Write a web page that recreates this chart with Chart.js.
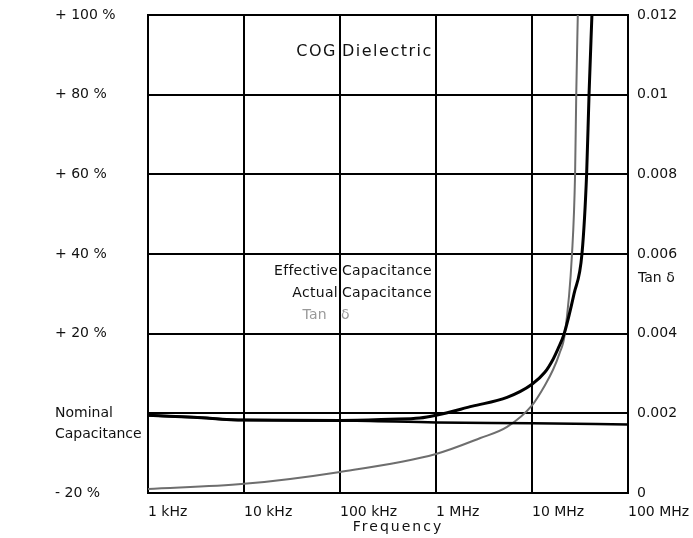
<!DOCTYPE html>
<html>
<head>
<meta charset="utf-8">
<script src="https://cdn.jsdelivr.net/npm/chart.js@4.4.1/dist/chart.umd.min.js"></script>
<style>
  html, body { margin: 0; padding: 0; background: #fff; }
  #wrap { width: 693px; height: 538px; }
</style>
</head>
<body>
<div id="wrap"><canvas id="cogChart" width="693" height="538"></canvas></div>
<script>
// ---- values ----
const freqTicks = [1e3, 1e4, 1e5, 1e6, 1e7, 1e8];
const freqLabels = ['1 kHz', '10 kHz', '100 kHz', '1 MHz', '10 MHz', '100 MHz'];
const capTickLabels = ['- 20 %', ['', 'Nominal', 'Capacitance'], '+ 20 %', '+ 40 %', '+ 60 %', '+ 80 %', '+ 100 %'];
const tanTickLabels = ['0', '0.002', '0.004', '0.006', '0.008', '0.01', '0.012'];

// effective capacitance, % change (left axis)
const effFreq = [1e3, 3e3, 1e4, 1e5, 3.3e5, 6.8e5, 1e6, 2.4e6, 5.5e6, 1e7, 1.36e7, 1.66e7, 1.86e7, 2.15e7, 2.74e7, 3.32e7, 3.71e7, 3.93e7, 4.21e7];
const effCap = [-0.5, -1.0, -1.7, -1.8, -1.5, -1.2, -0.5, 1.8, 4.0, 7.3, 10.3, 13.6, 16.1, 19.8, 30, 40.2, 60.3, 80.2, 100];

// actual capacitance, % change (left axis)
const actFreq = [1e3, 3e3, 1e4, 1e5, 1e6, 1e7, 1e8];
const actCap = [-0.5, -1.0, -1.7, -1.8, -2.3, -2.5, -2.8];

// dissipation factor (right axis)
const tanFreq = [1e3, 1e4, 1e5, 1e6, 2.9e6, 5.5e6, 1e7, 1.36e7, 1.66e7, 1.93e7, 2.2e7, 2.61e7, 2.81e7, 2.89e7, 3.0e7];
const tanD = [0.0001, 0.00023, 0.00053, 0.00098, 0.00138, 0.00166, 0.0022, 0.0027, 0.0031, 0.0035, 0.0040, 0.0060, 0.0080, 0.0100, 0.0120];

const FONT = 'DejaVu Sans';
const toPts = (xs, ys) => xs.map((v, i) => ({ x: v, y: ys[i] }));

// text written inside the plot and beside the axes
const cogText = {
  id: 'cogText',
  afterDraw(chart) {
    const { ctx, chartArea, scales: { x, y } } = chart;
    const split = x.getPixelForValue(1e5);
    ctx.save();
    ctx.textBaseline = 'middle';
    ctx.fillStyle = '#111';

    ctx.font = '16px "' + FONT + '"';
    ctx.letterSpacing = '1.5px';
    ctx.textAlign = 'right';
    ctx.fillText('COG', split - 3, y.getPixelForValue(90.7));
    ctx.textAlign = 'left';
    ctx.fillText('Dielectric', split + 2, y.getPixelForValue(90.7));

    ctx.font = '14px "' + FONT + '"';
    ctx.letterSpacing = '0.3px';
    ctx.textAlign = 'right';
    ctx.fillText('Effective', split - 2, y.getPixelForValue(35.7));
    ctx.fillText('Actual', split - 2, y.getPixelForValue(30.2));
    ctx.textAlign = 'left';
    ctx.fillText('Capacitance', split + 2, y.getPixelForValue(35.7));
    ctx.fillText('Capacitance', split + 2, y.getPixelForValue(30.2));

    ctx.fillStyle = '#999';
    ctx.textAlign = 'right';
    ctx.fillText('Tan', split - 13, y.getPixelForValue(24.7));
    ctx.textAlign = 'left';
    ctx.fillText('δ', split + 1, y.getPixelForValue(24.7));

    // right axis title
    ctx.fillStyle = '#111';
    ctx.letterSpacing = '0px';
    ctx.fillText('Tan δ', chartArea.right + 10, y.getPixelForValue(34));

    // x axis title
    ctx.textAlign = 'center';
    ctx.letterSpacing = '2px';
    ctx.fillText('Frequency', (chartArea.left + chartArea.right) / 2 + 10, chartArea.bottom + 34);
    ctx.restore();
  }
};

const tickFont = { family: FONT, size: 14 };
const gridStyle = { color: '#000', lineWidth: 2, drawTicks: false };
const noPad = s => { s.paddingTop = 0; s.paddingBottom = 0; s.paddingLeft = 0; s.paddingRight = 0; };

new Chart(document.getElementById('cogChart'), {
  type: 'line',
  data: {
    datasets: [
      {
        label: 'Effective Capacitance',
        data: toPts(effFreq, effCap),
        yAxisID: 'y',
        borderColor: '#000',
        borderWidth: 3,
        pointRadius: 0,
        cubicInterpolationMode: 'monotone'
      },
      {
        label: 'Actual Capacitance',
        data: toPts(actFreq, actCap),
        yAxisID: 'y',
        borderColor: '#000',
        borderWidth: 2.5,
        pointRadius: 0,
        cubicInterpolationMode: 'monotone'
      },
      {
        label: 'Tan δ',
        data: toPts(tanFreq, tanD),
        yAxisID: 'y1',
        borderColor: '#6e6e6e',
        borderWidth: 2,
        pointRadius: 0,
        cubicInterpolationMode: 'monotone'
      }
    ]
  },
  options: {
    responsive: false,
    animation: false,
    layout: { padding: { left: 55, top: 15, right: 0, bottom: 0 } },
    plugins: { legend: { display: false }, tooltip: { enabled: false } },
    scales: {
      x: {
        type: 'logarithmic',
        min: 1e3,
        max: 1e8,
        afterBuildTicks: s => { s.ticks = freqTicks.map(v => ({ value: v })); },
        afterFit: s => { s.height = 45; noPad(s); },
        grid: gridStyle,
        border: { color: '#000', width: 2 },
        ticks: {
          align: 'start',
          padding: 11,
          color: '#111',
          font: tickFont,
          autoSkip: false,
          maxRotation: 0,
          callback: (v, i) => freqLabels[i]
        }
      },
      y: {
        position: 'left',
        min: -20,
        max: 100,
        afterFit: s => { s.width = 93; noPad(s); },
        grid: gridStyle,
        border: { color: '#000', width: 2 },
        ticks: {
          stepSize: 20,
          crossAlign: 'far',
          color: '#111',
          font: { family: FONT, size: 14, lineHeight: 1.5 },
          callback: (v, i) => capTickLabels[i]
        }
      },
      y1: {
        position: 'right',
        min: 0,
        max: 0.012,
        afterFit: s => { s.width = 65; noPad(s); },
        grid: { drawOnChartArea: false, drawTicks: false },
        border: { color: '#000', width: 2 },
        ticks: {
          stepSize: 0.002,
          padding: 9,
          color: '#111',
          font: tickFont,
          callback: (v, i) => tanTickLabels[i]
        }
      }
    }
  },
  plugins: [cogText]
});
</script>
</body>
</html>
